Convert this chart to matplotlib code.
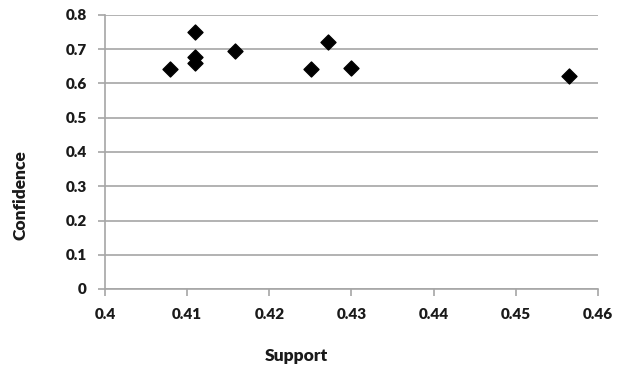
import numpy as np
import matplotlib
matplotlib.use("Agg")
import matplotlib.pyplot as plt

support = [0.4079, 0.4110, 0.4110, 0.4110, 0.4158, 0.4251, 0.4272, 0.4300, 0.4565]
confidence = [0.642, 0.749, 0.678, 0.659, 0.696, 0.643, 0.722, 0.646, 0.622]

xticks = [0.4, 0.41, 0.42, 0.43, 0.44, 0.45, 0.46]
yticks = [0, 0.1, 0.2, 0.3, 0.4, 0.5, 0.6, 0.7, 0.8]

plt.rcParams['font.family'] = ['Lato', 'DejaVu Sans']
grey = '#a6a6a6'
txt = '#1a1a1a'

fig = plt.figure(figsize=(6.18, 3.73), dpi=100)
ax = fig.add_axes([105/618, 84/373, 493/618, 274/373])

ax.scatter(support, confidence, marker='D', s=58, color='black', zorder=3)

ax.set_xlim(0.4, 0.46)
ax.set_ylim(0, 0.8)
ax.set_xticks(xticks)
ax.set_xticklabels([f'{v:g}' for v in xticks])
ax.set_yticks(yticks)
ax.set_yticklabels([f'{v:g}' for v in yticks])

ax.yaxis.grid(True, color=grey, linewidth=1.2)
ax.set_axisbelow(True)
for s in ['top', 'right']:
    ax.spines[s].set_visible(False)
for s in ['left', 'bottom']:
    ax.spines[s].set_color(grey)
    ax.spines[s].set_linewidth(1.2)
ax.tick_params(axis='both', direction='out', length=5, width=1.2, color=grey,
               labelsize=11, labelcolor=txt)
ax.tick_params(axis='x', pad=9)
ax.tick_params(axis='y', pad=8)
for lab in ax.get_xticklabels() + ax.get_yticklabels():
    lab.set_fontweight('heavy')

fig.text(21/618, 1 - 195/373, 'Confidence', rotation=90, ha='center', va='center',
         fontsize=12.5, fontweight='heavy', color=txt)
fig.text(296/618, 1 - 356/373, 'Support', ha='center', va='center',
         fontsize=12.5, fontweight='heavy', color=txt)

fig.savefig('out.png', dpi=100)
